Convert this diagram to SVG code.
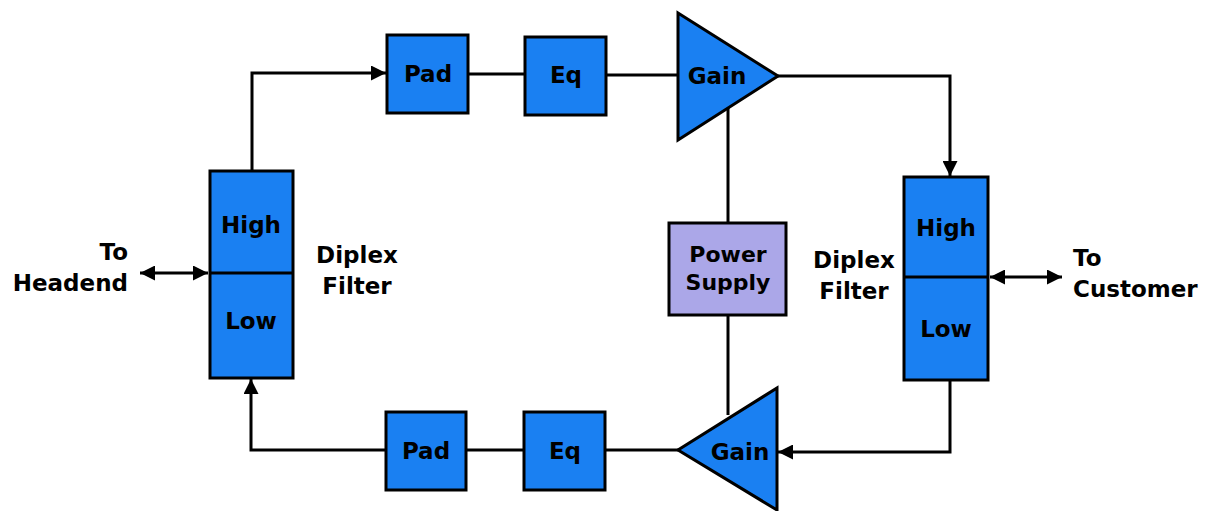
<svg xmlns="http://www.w3.org/2000/svg" width="1205" height="511" viewBox="0 0 1205 511">
<style>
.blk{fill:#1a80f2;stroke:#000;stroke-width:3}
.ps{fill:#aba7e8;stroke:#000;stroke-width:3}
.w{fill:none;stroke:#000;stroke-width:3}
text{font-family:"DejaVu Sans","Liberation Sans",Arial,sans-serif;font-weight:bold;font-size:23px;fill:#000}
.m{text-anchor:middle}
.e{text-anchor:end}
.s{font-size:22px}
</style>
<defs>
<marker id="ah" viewBox="0 0 10 10" refX="10" refY="5" markerWidth="5" markerHeight="5" orient="auto-start-reverse" markerUnits="strokeWidth">
<path d="M0,0 L10,5 L0,10 Z" fill="#000"/>
</marker>
</defs>
<rect width="1205" height="511" fill="#fff"/>
<g id="connectors">
<path class="w" d="M252,171 V73 H386" marker-end="url(#ah)"/>
<path class="w" d="M468,74 H525"/>
<path class="w" d="M606,75 H678"/>
<path class="w" d="M778,76 H950 V176" marker-end="url(#ah)"/>
<path class="w" d="M728,108 V223"/>
<path class="w" d="M728,315 V415"/>
<path class="w" d="M950,380 V452 H778" marker-end="url(#ah)"/>
<path class="w" d="M678,450 H605"/>
<path class="w" d="M524,450 H466"/>
<path class="w" d="M386,450 H251 V379" marker-end="url(#ah)"/>
<path class="w" d="M140,273 H208" marker-start="url(#ah)" marker-end="url(#ah)"/>
<path class="w" d="M990,277 H1062" marker-start="url(#ah)" marker-end="url(#ah)"/>
</g>
<g id="diplex-left">
<rect class="blk" x="210" y="171" width="83" height="207"/>
<line class="w" x1="210" y1="273" x2="293" y2="273"/>
<text class="m" x="251" y="233">High</text>
<text class="m" x="251" y="329">Low</text>
</g>
<g id="label-headend">
<text class="e" x="128" y="260">To</text>
<text class="e" x="128" y="291">Headend</text>
</g>
<g id="label-diplex-left">
<text class="m" x="357" y="263">Diplex</text>
<text class="m" x="357" y="294">Filter</text>
</g>
<g id="pad-top">
<rect class="blk" x="387" y="35" width="81" height="78"/>
<text class="m" x="428" y="82">Pad</text>
</g>
<g id="eq-top">
<rect class="blk" x="525" y="37" width="81" height="78"/>
<text class="m" x="566" y="83">Eq</text>
</g>
<g id="gain-top">
<path class="blk" d="M678,13 L778,76 L678,140 Z"/>
<text class="m" x="717" y="84">Gain</text>
</g>
<g id="power-supply">
<rect class="ps" x="669" y="223" width="117" height="92"/>
<text class="m s" x="728" y="262">Power</text>
<text class="m s" x="728" y="290">Supply</text>
</g>
<g id="diplex-right">
<rect class="blk" x="904" y="177" width="84" height="203"/>
<line class="w" x1="904" y1="277" x2="988" y2="277"/>
<text class="m" x="946" y="236">High</text>
<text class="m" x="946" y="337">Low</text>
</g>
<g id="label-diplex-right">
<text class="m" x="854" y="268">Diplex</text>
<text class="m" x="854" y="299">Filter</text>
</g>
<g id="label-customer">
<text x="1073" y="266">To</text>
<text x="1073" y="297">Customer</text>
</g>
<g id="pad-bottom">
<rect class="blk" x="386" y="412" width="80" height="78"/>
<text class="m" x="426" y="459">Pad</text>
</g>
<g id="eq-bottom">
<rect class="blk" x="524" y="412" width="81" height="78"/>
<text class="m" x="565" y="459">Eq</text>
</g>
<g id="gain-bottom">
<path class="blk" d="M777,388 L777,510 L678,450 Z"/>
<text class="m" x="740" y="460">Gain</text>
</g>
</svg>
